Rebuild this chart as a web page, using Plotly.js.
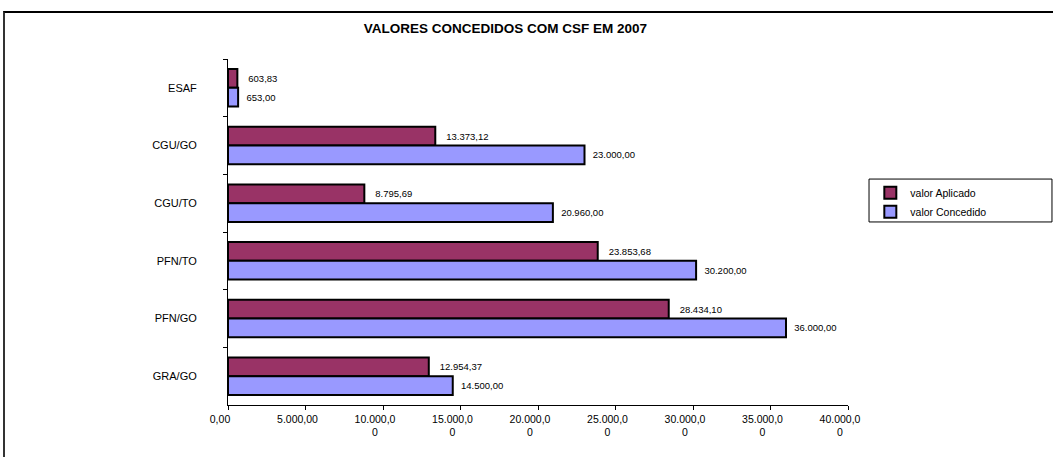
<!DOCTYPE html>
<html>
<head>
<meta charset="utf-8">
<script src="https://cdn.plot.ly/plotly-3.0.1.min.js"></script>
<style>
  html, body { margin: 0; padding: 0; background: #fff; overflow: hidden; }
  #chart { position: absolute; left: 0; top: 0; width: 1053px; height: 457px; }
  #frame { position: absolute; left: 3px; top: 11px; width: 3000px; height: 3000px;
           border-left: 2px solid #333; border-top: 2px solid #000; pointer-events: none; }
</style>
</head>
<body>
<div id="chart"></div>
<div id="frame"></div>
<script>
// Data (top to bottom as shown)
const categories = ["ESAF", "CGU/GO", "CGU/TO", "PFN/TO", "PFN/GO", "GRA/GO"];
const valorAplicado = [603.83, 13373.12, 8795.69, 23853.68, 28434.10, 12954.37];
const valorConcedido = [653.00, 23000.00, 20960.00, 30200.00, 36000.00, 14500.00];
const xTickVals = [0, 5000, 10000, 15000, 20000, 25000, 30000, 35000, 40000];
const xTickText = ["0,00", "5.000,00", "10.000,0<br>0", "15.000,0<br>0", "20.000,0<br>0",
                   "25.000,0<br>0", "30.000,0<br>0", "35.000,0<br>0", "40.000,0<br>0"];

function fmtBR(v) {
  const parts = v.toFixed(2).split(".");
  const intPart = parts[0].replace(/\B(?=(\d{3})+(?!\d))/g, ".");
  return intPart + "," + parts[1];
}

const FONT = "Liberation Sans, Arial, sans-serif";

const traces = [
  {
    type: "bar", orientation: "h", name: "valor Aplicado",
    y: categories, x: valorAplicado,
    text: valorAplicado.map(v => "\u00a0\u00a0\u00a0" + fmtBR(v)),
    textposition: "outside", cliponaxis: false, constraintext: "none",
    textfont: { family: FONT, size: 9.5, color: "#000" },
    marker: { color: "#993366", line: { color: "#000", width: 2 } },
    hoverinfo: "x+y"
  },
  {
    type: "bar", orientation: "h", name: "valor Concedido",
    y: categories, x: valorConcedido,
    text: valorConcedido.map(v => "\u00a0\u00a0" + fmtBR(v)),
    textposition: "outside", cliponaxis: false, constraintext: "none",
    textfont: { family: FONT, size: 9.5, color: "#000" },
    marker: { color: "#9999FF", line: { color: "#000", width: 2 } },
    hoverinfo: "x+y"
  }
];

const layout = {
  width: 1053, height: 457,
  margin: { l: 228, r: 205, t: 59, b: 52, pad: 0 },
  paper_bgcolor: "rgba(0,0,0,0)", plot_bgcolor: "rgba(0,0,0,0)",
  font: { family: FONT, size: 10, color: "#000" },
  title: {
    text: "<b>VALORES CONCEDIDOS COM CSF EM 2007</b>",
    font: { family: FONT, size: 13.5, color: "#000" },
    xref: "container", yref: "container", x: 0.48, y: 1 - 28 / 457,
    xanchor: "center", yanchor: "middle"
  },
  barmode: "group", bargap: 0.35, bargroupgap: 0,
  showlegend: true,
  legend: {
    x: 1.036, y: 0.655, xanchor: "left", yanchor: "top",
    borderwidth: 0, bgcolor: "rgba(0,0,0,0)",
    font: { family: FONT, size: 10.5, color: "#000" },
    traceorder: "normal", tracegroupgap: 0
  },
  shapes: [{
    type: "rect", xref: "paper", yref: "paper",
    x0: 1.0339, x1: 1.329, y0: 0.529, y1: 0.653,
    line: { color: "#000", width: 1 }, fillcolor: "rgba(0,0,0,0)"
  }],
  xaxis: {
    range: [0, 40000], tickmode: "array", tickvals: xTickVals, ticktext: xTickText,
    showgrid: false, zeroline: false, showline: true, linecolor: "#000", linewidth: 1,
    ticks: "outside", ticklen: 4, tickcolor: "#000",
    ticklabelshift: -8,
    tickfont: { family: FONT, size: 10.5, color: "#000" }
  },
  yaxis: {
    type: "category", autorange: "reversed",
    showgrid: false, zeroline: false, showline: true, linecolor: "#000", linewidth: 1,
    ticks: "outside", ticklen: 4, tickcolor: "#000", tickson: "boundaries",
    ticklabelstandoff: 28,
    tickfont: { family: FONT, size: 11, color: "#000" }
  }
};

Plotly.newPlot("chart", traces, layout, { displayModeBar: false, staticPlot: true });
</script>
</body>
</html>
